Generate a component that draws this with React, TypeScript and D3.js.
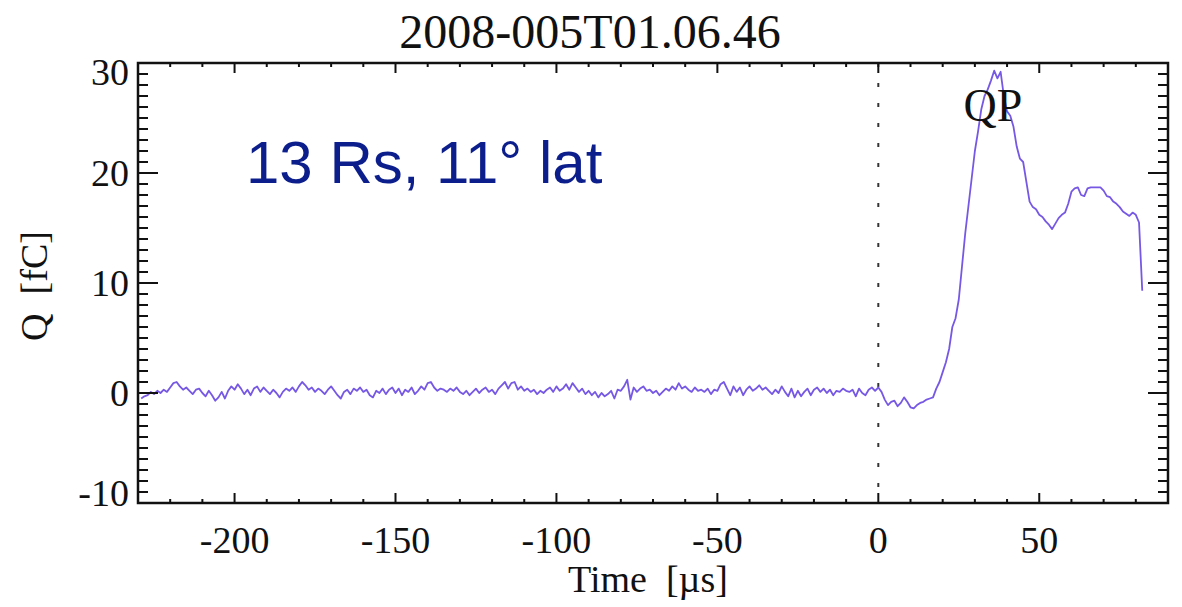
import React, { useEffect, useRef } from 'react';
import * as d3 from 'd3';

// pre-trigger baseline, one sample per µs from -229 to 0
const baseStart = -229;
const baseline = [
  -0.5, -0.3, -0.2, 0.1, -0.1, 0.2, 0.0, 0.3, 0.1, 0.5,
  0.9, 1.0, 0.6, 0.3, 0.5, 0.2, -0.1, 0.3, 0.4, 0.0,
  -0.3, 0.2, -0.2, -0.7, -0.4, 0.1, -0.5, 0.2, 0.6, 0.3,
  0.8, 0.4, -0.1, 0.3, -0.2, 0.4, 0.6, 0.1, 0.5, 0.2,
  -0.1, 0.3, 0.0, -0.4, 0.1, 0.4, 0.2, 0.5, 0.1, 0.6,
  1.0, 0.7, 0.3, 0.5, 0.1, 0.4, 0.2, -0.1, 0.3, 0.6,
  0.2, -0.2, -0.5, 0.1, 0.3, -0.1, 0.4, 0.2, 0.5, 0.1,
  0.3, -0.2, -0.4, 0.2, 0.0, 0.4, -0.1, 0.3, 0.5, 0.0,
  0.4, -0.2, 0.3, 0.1, 0.5, -0.1, 0.2, 0.6, 0.3, 0.9,
  1.0, 0.5, 0.2, 0.4, 0.3, 0.1, 0.4, 0.2, 0.5, 0.1,
  -0.1, 0.2, -0.2, 0.1, 0.4, 0.0, 0.3, 0.5, 0.1, 0.3,
  -0.1, 0.4, 0.7, 1.0, 0.4, 0.9, 1.0, 0.3, 0.6, 0.2,
  0.4, 0.1, 0.3, -0.1, 0.2, 0.0, 0.3, 0.5, 0.1, 0.6,
  0.2, 0.4, 0.8, 0.3, 0.9, 0.5, 0.1, 0.4, -0.1, 0.2,
  -0.2, 0.1, -0.4, 0.0, -0.3, -0.1, 0.2, -0.5, 0.3, 0.2,
  0.6, 1.2, -0.6, 0.5, 0.1, 0.4, 0.6, 0.2, 0.3, 0.0,
  0.2, -0.2, 0.1, 0.4, 0.2, 0.6, 0.3, 0.9, 0.4, 0.6,
  0.3, 0.1, 0.5, 0.2, 0.3, 0.1, 0.4, -0.1, 0.3, 0.2,
  0.8, 1.0, 0.4, -0.2, 0.6, 0.1, 0.5, -0.2, 0.3, 0.6,
  0.2, 0.4, 0.7, 0.3, 0.5, 0.2, -0.1, 0.3, 0.0, 0.6,
  0.1, -0.3, 0.4, -0.4, 0.2, -0.3, 0.1, 0.4, -0.2, 0.3,
  0.5, 0.1, 0.4, 0.0, 0.3, -0.2, 0.2, 0.1, 0.4, 0.2,
  0.1, 0.3, -0.3, 0.4, 0.0, -0.2, 0.3, 0.5, 0.2, 0.5,
];

// impact signal, one sample per µs from 1 to 82
const pulse = [
  0.1, -0.6, -1.1, -0.8, -0.7, -1.2, -0.9, -0.4, -0.8, -1.3,
  -1.4, -1.1, -0.9, -0.8, -0.6, -0.5, -0.4, 0.4, 1.0, 1.9,
  2.8, 4.0, 6.0, 6.8, 8.5, 11.5, 14.5, 17.0, 19.5, 22.0,
  23.8, 25.8, 27.0, 27.6, 28.4, 29.3, 28.6, 29.2, 27.0, 25.6,
  25.2, 24.2, 22.4, 21.3, 21.0, 19.2, 17.4, 16.9, 16.7, 16.2,
  16.0, 15.6, 15.3, 14.9, 15.4, 15.9, 16.2, 16.4, 17.2, 18.3,
  18.6, 18.7, 18.0, 17.9, 18.6, 18.7, 18.7, 18.7, 18.7, 18.4,
  17.9, 17.8, 17.4, 17.2, 16.9, 16.5, 16.3, 16.1, 16.4, 16.2,
  15.5, 9.3,
];

const xTicks = [-200, -150, -100, -50, 0, 50];
const yTicks = [-10, 0, 10, 20, 30];

const W = 1182;
const H = 607;

const App = () => {
  const ref = useRef<SVGSVGElement>(null);

  useEffect(() => {
    const svg = d3.select(ref.current);
    svg.selectAll('*').remove();

    const left = 138, right = 1168, top = 63, bottom = 503;
    const x = d3.scaleLinear().domain([-230, 90]).range([left, right]);
    const y = d3.scaleLinear().domain([-10, 30]).range([bottom, top]);

    const pts: [number, number][] = [];
    baseline.forEach((v, i) => pts.push([baseStart + i, v]));
    pulse.forEach((v, i) => pts.push([i + 1, v]));

    // dotted trigger line
    svg.append('line')
      .attr('x1', x(0)).attr('x2', x(0))
      .attr('y1', top).attr('y2', bottom)
      .attr('stroke', '#333').attr('stroke-width', 2)
      .attr('stroke-dasharray', '4,16');

    const line = d3.line<[number, number]>().x(d => x(d[0])).y(d => y(d[1]));
    svg.append('path')
      .datum(pts)
      .attr('d', line)
      .attr('fill', 'none')
      .attr('stroke', '#7658e4')
      .attr('stroke-width', 1.8)
      .attr('stroke-linejoin', 'round');

    // ticks (inward, mirrored on top/right)
    const tg = svg.append('g').attr('stroke', '#111').attr('stroke-width', 2);
    d3.range(-230, 91, 10).forEach(t => {
      const major = t % 50 === 0;
      const len = major ? 10 : 4;
      tg.append('line').attr('x1', x(t)).attr('x2', x(t)).attr('y1', bottom).attr('y2', bottom - len);
      tg.append('line').attr('x1', x(t)).attr('x2', x(t)).attr('y1', top).attr('y2', top + len);
    });
    d3.range(-10, 31, 1).forEach(v => {
      const major = v % 10 === 0;
      const len = major ? 20 : 10;
      tg.append('line').attr('x1', left).attr('x2', left + len).attr('y1', y(v)).attr('y2', y(v));
      tg.append('line').attr('x1', right).attr('x2', right - len).attr('y1', y(v)).attr('y2', y(v));
    });

    svg.append('rect')
      .attr('x', left).attr('y', top)
      .attr('width', right - left).attr('height', bottom - top)
      .attr('fill', 'none').attr('stroke', '#111').attr('stroke-width', 2.5);

    const serif = 'Liberation Serif, Times New Roman, serif';

    svg.append('g').selectAll('text').data(xTicks).join('text')
      .attr('x', d => x(d)).attr('y', 553)
      .attr('text-anchor', 'middle')
      .attr('font-family', serif).attr('font-size', 38).attr('fill', '#111')
      .text(d => d);

    svg.append('g').selectAll('text').data(yTicks).join('text')
      .attr('x', 129)
      .attr('y', d => y(d) + 13 + (d === 30 ? 9 : d === -10 ? -10 : 0))
      .attr('text-anchor', 'end')
      .attr('font-family', serif).attr('font-size', 38).attr('fill', '#111')
      .text(d => d);

    svg.append('text')
      .attr('x', 590).attr('y', 48)
      .attr('text-anchor', 'middle')
      .attr('font-family', serif).attr('font-size', 48).attr('fill', '#111')
      .text('2008-005T01.06.46');

    svg.append('text')
      .attr('x', 648).attr('y', 592)
      .attr('text-anchor', 'middle')
      .attr('font-family', serif).attr('font-size', 38).attr('fill', '#111')
      .style('white-space', 'pre')
      .text('Time  [µs]');

    svg.append('text')
      .attr('transform', 'translate(47,286) rotate(-90)')
      .attr('text-anchor', 'middle')
      .attr('font-family', serif).attr('font-size', 38).attr('fill', '#111')
      .style('white-space', 'pre')
      .text('Q  [fC]');

    svg.append('text')
      .attr('x', 993).attr('y', 121)
      .attr('text-anchor', 'middle')
      .attr('font-family', serif).attr('font-size', 46).attr('fill', '#111')
      .text('QP');

    svg.append('text')
      .attr('x', 246).attr('y', 183)
      .attr('font-family', 'Liberation Sans, Arial, sans-serif').attr('font-size', 60)
      .attr('fill', '#0b1e8c')
      .text('13 Rs, 11° lat');
  }, []);

  return (
    <svg ref={ref} width={W} height={H}
      style={{ position: 'absolute', left: 0, top: 0, background: 'white' }} />
  );
};

export default App;
